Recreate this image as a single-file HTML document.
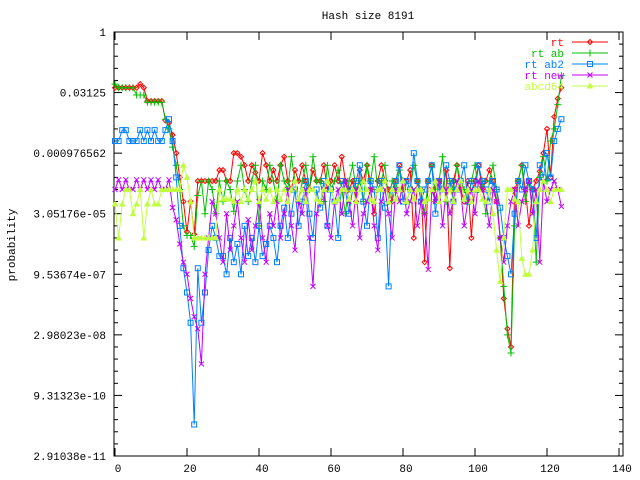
<!DOCTYPE html>
<html><head><meta charset="utf-8"><style>
body{margin:0;background:#fff;}
svg{display:block;font-family:"Liberation Mono","DejaVu Sans Mono",monospace;font-size:11px;}
</style></head><body>
<svg id="chart" width="640" height="480" viewBox="0 0 640 480" xmlns="http://www.w3.org/2000/svg">
<rect x="0" y="0" width="640" height="480" fill="#fff"/>
<text x="368" y="19" text-anchor="middle">Hash size 8191</text>
<text transform="translate(15,245) rotate(-90)" text-anchor="middle">probability</text>
<g id="axes"></g>
<g id="series"></g>
<g id="legend"></g>
</svg>
<script>
const xTicks=[0,20,40,60,80,100,120,140];
const yTickExps=[0,-5,-10,-15,-20,-25,-30,-35];
const yTickLabels=["1","0.03125","0.000976562","3.05176e-05","9.53674e-07","2.98023e-08","9.31323e-10","2.91038e-11"];
const seriesNames=["rt","rt ab","rt ab2","rt new","abcd64"];
const seriesColors=["#ff0000","#00c000","#0080ff","#c000ff","#c0ff40"];
// log2 of probability, index 0..124
const rtLog2=[-4.6,-4.6,-4.6,-4.6,-4.6,-4.6,-4.6,-4.3,-4.6,-5.7,-5.7,-5.7,-5.7,-5.7,-7.3,-7.5,-8.5,-10,-12,-14,-16.5,-14,-16.7,-12.3,-12.3,-12.3,-12.3,-12.3,-12.3,-11.4,-11.4,-12.3,-12.3,-10,-10,-10.3,-11,-12.3,-11,-11.6,-12.3,-10,-11,-12.3,-11.4,-12.3,-11,-10.3,-12.3,-13,-11.4,-12.3,-11,-12.3,-13,-11.4,-12.3,-12.3,-11,-13,-12.3,-11,-12.3,-10.3,-12.3,-13,-12.3,-14,-11.4,-12.3,-11,-13,-15,-12.3,-11,-12.3,-13,-14,-12.3,-11,-13,-12.3,-11.4,-17,-12.3,-13,-19,-12.3,-11,-14,-12.3,-13,-11.4,-19.5,-12.3,-11,-13,-14,-12.3,-17,-12.3,-11,-13,-12.3,-11.4,-12.3,-14,-17,-22,-24.5,-26,-13,-12.3,-11,-13,-16,-13,-12.3,-11.5,-10,-8,-12,-7,-5.5,-4.6];
const rtAbLog2=[-4.3,-4.6,-4.6,-4.6,-4.6,-4.6,-5.2,-5.2,-5.2,-5.8,-5.8,-5.8,-5.8,-5.8,-7.2,-8,-9.5,-11,-13,-16,-16.8,-16.8,-17.7,-13.5,-12.3,-15,-12.3,-13,-15,-12.3,-14,-12.3,-13,-14.8,-12.3,-11,-13,-14,-12.3,-11,-16,-12.3,-13,-11,-12.3,-14,-11,-12.3,-13,-10.3,-12.3,-14,-12.3,-11,-13,-10.3,-12.3,-12.3,-14,-11,-13,-12.3,-11.4,-13,-15,-12.3,-11,-13,-12.3,-14,-11,-12.3,-10.3,-13,-12.3,-11,-14,-12.3,-13,-11.4,-12.3,-14,-13,-11,-12.3,-13,-15,-12.3,-11,-13,-12.3,-10.3,-14,-12.3,-13,-11,-12.3,-13,-14,-12.3,-11,-13,-12.3,-15,-12.3,-11,-13,-17,-21,-25,-26.5,-16,-12.3,-11,-14,-12.3,-13,-19,-12,-10.3,-12.3,-9,-8,-6,-3.6];
const rtAb2Log2=[-9,-9,-8.1,-8.1,-9,-9,-9,-8.1,-9,-8.1,-9,-8.1,-9,-9,-8.1,-7.2,-9,-12,-16,-19.5,-21.5,-24,-32.4,-19.5,-24,-21.5,-18,-16,-17,-18.5,-18.5,-20,-17,-19,-17.5,-20,-16,-18.5,-17,-19,-16,-18.5,-17.5,-16,-17,-19,-16,-14.5,-17,-15,-13,-16,-14,-12.3,-15,-17,-13,-14.5,-12.3,-16,-13,-14,-17,-12.3,-13,-15,-13,-12.3,-11,-14,-16,-12.3,-13,-17,-12.3,-14.5,-21,-13,-12.3,-11,-14,-12.3,-13,-10,-12.3,-14,-13,-12.3,-11,-15,-12.3,-13,-11,-12.3,-14,-13,-12.3,-11,-14,-12.3,-13,-11,-12.3,-13,-14,-12.3,-13,-14.5,-17,-18.5,-20,-15,-12.3,-13,-11,-12.3,-13,-17,-11,-12,-10,-12,-9,-8,-7.2];
const rtNewLog2=[-13,-12.2,-13,-12.2,-13,-13,-12.2,-13,-12.2,-13,-12.2,-13,-12.2,-13,-13,-12.2,-14.5,-15.5,-17.5,-19,-20,-22,-23.5,-24.5,-27.4,-20,-17,-14,-15,-17,-19,-15,-18,-16,-14,-17,-19,-15.5,-18,-16,-14,-17,-19,-15,-16,-14,-17,-15,-13,-16,-18,-14,-15,-13,-17,-21,-15,-14,-13,-16,-17,-14,-13,-15,-12.3,-14,-16,-13,-17,-15,-14,-13,-16,-18,-14,-13,-15,-17,-13,-14,-12.3,-15,-14,-13,-16,-14,-15,-19.6,-13,-14,-12.3,-16,-13,-15,-14,-12.3,-13,-16,-14,-13,-15,-12.3,-13,-14,-16,-13,-14,-17,-19,-16,-14,-13,-16,-14,-13,-12.3,-15,-13,-19,-12.3,-14,-13,-12.3,-13,-14.4];
const abcd64Log2=[-14.2,-17,-14.2,-13,-13,-15,-14.2,-13,-17,-14.2,-13,-14.2,-14.2,-13,-13,-13,-13,-13,-13,-11,-12,-14,-17,-17,-17,-17,-17,-17,-17,-13,-13.8,-13.8,-13.8,-14,-13,-14,-13,-13.8,-13,-12.3,-14,-13,-13.8,-13,-14,-13,-13.8,-13,-14,-13,-12.3,-13.8,-13,-14,-13,-13,-13.8,-14,-13,-12.3,-13,-14,-13.8,-13,-13,-13.8,-13,-14,-13,-12.3,-13,-13.8,-14,-13,-13,-12.3,-14,-13,-13.8,-13,-12.3,-14,-13,-13.8,-13,-13,-14,-13.8,-13,-12.3,-14,-13,-13.8,-13,-14,-13,-12.3,-13.8,-13,-14,-13,-13,-13.8,-14,-13,-15,-18,-20.6,-17,-13,-13,-13.8,-14,-18.7,-20,-20,-18,-14,-13,-12.3,-13,-14,-13,-13,-13];
const allSeries=[rtLog2,rtAbLog2,rtAb2Log2,rtNewLog2,abcd64Log2];

const L=114,R=623,T=32,B=456;
function xs(i){return 115+3.6*i;}
function ys(e){return T+(-e)*(B-T)/35;}
const NS="http://www.w3.org/2000/svg";
function mk(tag,attrs,parent){const e=document.createElementNS(NS,tag);for(const k in attrs)e.setAttribute(k,attrs[k]);parent.appendChild(e);return e;}
const axes=document.getElementById('axes');
const frame=mk('rect',{x:L,y:T,width:R-L,height:B-T,fill:'none',stroke:'#000','stroke-width':1},axes);


for(let e=0;e>=-35;e--){
  const y=ys(e);const len=(e%5===0)?8:4;
  mk('line',{x1:L,y1:y,x2:L+len,y2:y,stroke:'#000'},axes);
  mk('line',{x1:R,y1:y,x2:R-len,y2:y,stroke:'#000'},axes);
}
yTickExps.forEach((e,k)=>{
  const t=mk('text',{x:L-8,y:ys(e)+4,'text-anchor':'end'},axes);
  t.textContent=yTickLabels[k];
  
  
});
xTicks.forEach(v=>{
  const x=xs(v);
  mk('line',{x1:x,y1:B,x2:x,y2:B-8,stroke:'#000'},axes);
  mk('line',{x1:x,y1:T,x2:x,y2:T+8,stroke:'#000'},axes);
  const t=mk('text',{x:x+3,y:472,'text-anchor':'middle'},axes);
  t.textContent=String(v);
  
  
});
function marker(k,x,y,g,c){
  const s=2.5;
  if(k===0){mk('path',{d:`M${x-s} ${y}L${x} ${y-s}L${x+s} ${y}L${x} ${y+s}Z`,fill:'none',stroke:c},g);}
  else if(k===1){mk('path',{d:`M${x-3.5} ${y}H${x+3.5}M${x} ${y-3.5}V${y+3.5}`,stroke:c,fill:'none'},g);}
  else if(k===2){mk('rect',{x:x-s,y:y-s,width:2*s,height:2*s,fill:'none',stroke:c},g);}
  else if(k===3){mk('path',{d:`M${x-s} ${y-s}L${x+s} ${y+s}M${x-s} ${y+s}L${x+s} ${y-s}`,stroke:c,fill:'none'},g);}
  else {mk('path',{d:`M${x-s} ${y+2}L${x} ${y-2.5}L${x+s} ${y+2}Z`,fill:c,stroke:c},g);}
}
const sg=document.getElementById('series');
allSeries.forEach((arr,k)=>{
  const c=seriesColors[k];
  const g=mk('g',{},sg);
  
  
  const pts=arr.map((v,i)=>xs(i).toFixed(1)+','+ys(v).toFixed(1)).join(' ');
  mk('polyline',{points:pts,fill:'none',stroke:c,'stroke-width':1},g);
  arr.forEach((v,i)=>marker(k,xs(i),ys(v),g,c));
});
const lg=document.getElementById('legend');
seriesNames.forEach((n,k)=>{
  const y=42+k*11;const c=seriesColors[k];
  const g=mk('g',{},lg);
  
  
  const t=mk('text',{x:564,y:y+4,'text-anchor':'end',fill:c},g);
  t.textContent=n;
  mk('line',{x1:572,y1:y,x2:608,y2:y,stroke:c},g);
  marker(k,590,y,g,c);
});
</script>
</body></html>
